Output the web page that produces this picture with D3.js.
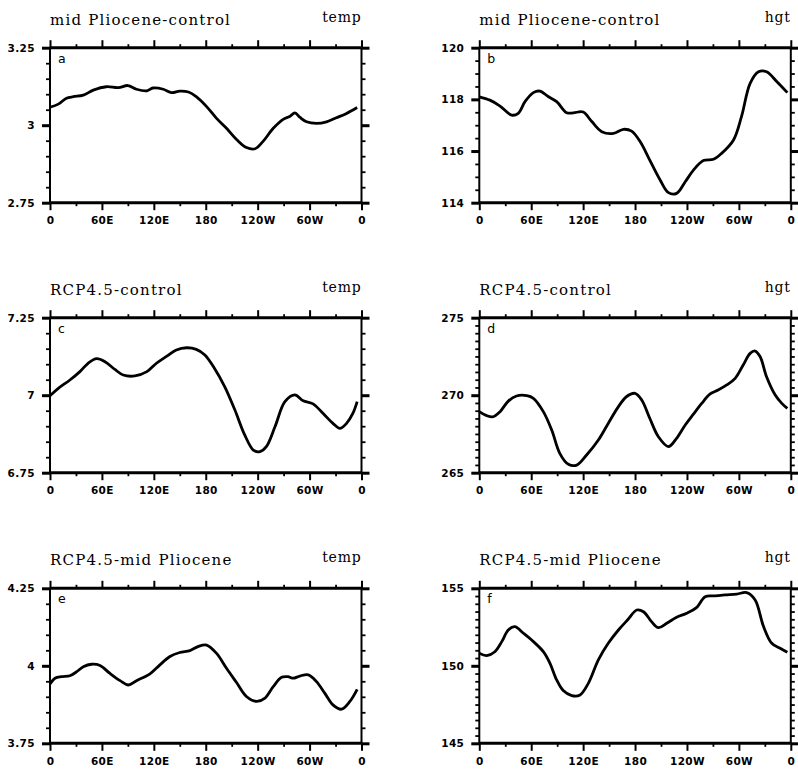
<!DOCTYPE html>
<html>
<head>
<meta charset="utf-8">
<script src="https://cdn.jsdelivr.net/npm/d3@7"></script>
<style>
  body { margin: 0; background: #fff; }
  .title { font-family: "DejaVu Serif", serif; font-size: 15px; letter-spacing: 1.2px; }
  .var { font-family: "DejaVu Serif", serif; font-size: 14px; letter-spacing: 0.8px; }
  .tick text { font-family: "DejaVu Sans", sans-serif; font-weight: bold; font-size: 10.5px; letter-spacing: 0.4px; }
  .tag { font-family: "DejaVu Sans", sans-serif; font-size: 12.5px; }
</style>
</head>
<body>
<div class="container"></div>
<script>
// longitude ticks shared by all panels
const lonTicks = [0, 60, 120, 180, 240, 300, 360];
const lonLabels = ["0", "60E", "120E", "180", "120W", "60W", "0"];

// a: mid Pliocene-control, temp
const lonA = [0, 9.6, 19, 27, 38.5, 50, 65, 79, 90, 100, 112, 119, 131, 140.5, 150, 160, 169, 181, 192.5, 204, 215.6, 227, 237, 246, 258, 269.5, 277, 283, 289, 296.5, 308, 319.6, 331, 342.7, 355];
const valA = [3.058, 3.068, 3.087, 3.092, 3.097, 3.113, 3.124, 3.121, 3.128, 3.116, 3.111, 3.120, 3.116, 3.105, 3.110, 3.107, 3.092, 3.060, 3.022, 2.990, 2.954, 2.928, 2.924, 2.947, 2.990, 3.019, 3.028, 3.040, 3.025, 3.011, 3.006, 3.011, 3.024, 3.038, 3.057];

// b: mid Pliocene-control, hgt
const lonB = [0, 12.3, 24, 37.4, 45, 52.8, 62.5, 70, 80, 89.4, 101, 108.7, 120, 130, 141.5, 155, 166.5, 176, 186, 197, 209, 218.6, 228, 238, 247.5, 259, 270.6, 280, 293.8, 303, 313, 322.7, 332, 344, 356];
const valB = [118.10, 117.97, 117.74, 117.39, 117.46, 117.91, 118.26, 118.32, 118.10, 117.91, 117.48, 117.48, 117.51, 117.14, 116.75, 116.68, 116.84, 116.77, 116.36, 115.65, 114.88, 114.39, 114.36, 114.81, 115.26, 115.63, 115.68, 115.91, 116.43, 117.33, 118.62, 119.07, 119.07, 118.68, 118.26];

// c: RCP4.5-control, temp
const lonC = [0, 9.6, 23, 34.6, 44, 54, 63.5, 75, 84.7, 98, 112, 123, 135, 146, 158, 169, 179, 190, 202, 213.7, 225, 235, 242.6, 250, 260, 271.5, 283, 292.6, 304, 315.7, 327, 335, 342.7, 350, 355];
const valC = [6.998, 7.022, 7.049, 7.076, 7.103, 7.118, 7.108, 7.083, 7.065, 7.062, 7.076, 7.103, 7.126, 7.146, 7.153, 7.148, 7.130, 7.087, 7.027, 6.952, 6.872, 6.823, 6.818, 6.834, 6.898, 6.979, 7.001, 6.982, 6.972, 6.941, 6.909, 6.893, 6.909, 6.941, 6.979];

// d: RCP4.5-control, hgt
const lonD = [0, 8.5, 16, 24, 33.5, 43, 55, 62.5, 74, 83.7, 93, 103, 112.6, 124, 137.6, 149, 160.8, 170, 180, 187.7, 197, 207, 218.6, 228, 238, 247.5, 257, 266.8, 276, 286, 295.7, 305, 313, 318.8, 324.6, 332, 342, 349.6, 356];
const valD = [268.94, 268.68, 268.61, 268.94, 269.62, 269.95, 269.97, 269.80, 268.94, 267.75, 266.25, 265.54, 265.49, 266.14, 267.11, 268.18, 269.26, 269.90, 270.12, 269.69, 268.51, 267.32, 266.68, 267.22, 268.08, 268.78, 269.47, 270.08, 270.33, 270.66, 271.09, 271.95, 272.70, 272.85, 272.48, 271.19, 270.01, 269.47, 269.15];

// e: RCP4.5-mid Pliocene, temp
const lonE = [0, 5.8, 13.5, 23, 31, 38.5, 48, 57.8, 69, 81, 90.5, 100, 115.5, 127, 138.6, 150, 161.7, 171, 181, 192.5, 204, 215.6, 227, 238.7, 248, 258, 267.6, 275, 281, 288.8, 298.5, 308, 317.7, 327, 337, 346.6, 355];
const valE = [3.941, 3.960, 3.965, 3.968, 3.981, 3.997, 4.005, 4.001, 3.976, 3.952, 3.938, 3.952, 3.974, 4.003, 4.030, 4.043, 4.049, 4.062, 4.067, 4.040, 3.992, 3.946, 3.901, 3.885, 3.895, 3.933, 3.963, 3.965, 3.960, 3.967, 3.971, 3.949, 3.911, 3.874, 3.860, 3.885, 3.924];

// f: RCP4.5-mid Pliocene, hgt
const lonF = [0, 8.5, 18, 26, 33.5, 41, 51, 62.5, 74, 81.7, 89.4, 97, 106.8, 116.4, 126, 137.6, 149, 160.8, 172, 182, 189.7, 199, 207, 216.6, 228, 239.8, 251, 261, 272.5, 284, 297.6, 309, 318.8, 328.5, 338, 347.7, 356];
const valF = [150.81, 150.66, 150.91, 151.56, 152.31, 152.53, 152.10, 151.56, 150.91, 150.16, 149.09, 148.40, 148.08, 148.12, 148.87, 150.38, 151.45, 152.31, 153.00, 153.60, 153.49, 152.85, 152.46, 152.74, 153.13, 153.39, 153.75, 154.46, 154.51, 154.57, 154.63, 154.72, 154.25, 152.53, 151.45, 151.13, 150.87];

const panels = [
  { tag: "a", title: "mid Pliocene-control", v: "temp", lon: lonA, val: valA, yDomain: [2.75, 3.25], major: 0.25, minor: 0.05, col: 0, row: 0 },
  { tag: "b", title: "mid Pliocene-control", v: "hgt", lon: lonB, val: valB, yDomain: [114, 120], major: 2, minor: 0.5, col: 1, row: 0 },
  { tag: "c", title: "RCP4.5-control", v: "temp", lon: lonC, val: valC, yDomain: [6.75, 7.25], major: 0.25, minor: 0.05, col: 0, row: 1 },
  { tag: "d", title: "RCP4.5-control", v: "hgt", lon: lonD, val: valD, yDomain: [265, 275], major: 5, minor: 0.5, col: 1, row: 1 },
  { tag: "e", title: "RCP4.5-mid Pliocene", v: "temp", lon: lonE, val: valE, yDomain: [3.75, 4.25], major: 0.25, minor: 0.05, col: 0, row: 2 },
  { tag: "f", title: "RCP4.5-mid Pliocene", v: "hgt", lon: lonF, val: valF, yDomain: [145, 155], major: 5, minor: 0.5, col: 1, row: 2 }
];

const WIDTH = 798, HEIGHT = 770;
const PW = 311.5, PH = 155;
const colX = [50, 479.3];
const rowY = [47.7, 317.7, 588.3];

const svg = d3.select(".container").append("svg")
  .attr("width", WIDTH)
  .attr("height", HEIGHT);

const steps = (lo, hi, step) => d3.range(Math.round((hi - lo) / step) + 1).map(i => +(lo + i * step).toFixed(4));

panels.forEach(p => {
  const x0 = colX[p.col], y0 = rowY[p.row];
  const g = svg.append("g").attr("transform", `translate(${x0},${y0})`);

  const x = d3.scaleLinear().domain([0, 360]).range([0, PW]);
  const y = d3.scaleLinear().domain(p.yDomain).range([PH, 0]);

  const yMajor = steps(p.yDomain[0], p.yDomain[1], p.major);
  const yMinor = steps(p.yDomain[0], p.yDomain[1], p.minor).filter(v => !yMajor.some(m => Math.abs(m - v) < 1e-6));
  const xMinor = d3.range(30, 360, 60);

  // minor ticks, all four sides, outward
  const minorAxes = [
    [d3.axisBottom(x).tickValues(xMinor).tickSize(3.5), `translate(0,${PH})`],
    [d3.axisTop(x).tickValues(xMinor).tickSize(3.5), "translate(0,0)"],
    [d3.axisLeft(y).tickValues(yMinor).tickSize(4), "translate(0,0)"],
    [d3.axisRight(y).tickValues(yMinor).tickSize(4), `translate(${PW},0)`]
  ];
  minorAxes.forEach(([ax, tr]) => {
    const a = g.append("g").attr("transform", tr).call(ax.tickFormat("").tickSizeOuter(0));
    a.select(".domain").remove();
    a.selectAll(".tick line").attr("stroke", "#000").attr("stroke-width", 1.8);
  });

  // major ticks
  const bottom = g.append("g").attr("transform", `translate(0,${PH})`)
    .call(d3.axisBottom(x).tickValues(lonTicks).tickSize(7.5).tickPadding(5).tickSizeOuter(0)
      .tickFormat((d, i) => lonLabels[i]));
  const top = g.append("g")
    .call(d3.axisTop(x).tickValues(lonTicks).tickSize(7.5).tickFormat("").tickSizeOuter(0));
  const left = g.append("g")
    .call(d3.axisLeft(y).tickValues(yMajor).tickSize(8).tickPadding(7).tickSizeOuter(0)
      .tickFormat(d => String(d)));
  const right = g.append("g").attr("transform", `translate(${PW},0)`)
    .call(d3.axisRight(y).tickValues(yMajor).tickSize(8).tickFormat("").tickSizeOuter(0));

  [bottom, top].forEach(a => {
    a.select(".domain").remove();
    a.selectAll(".tick line").attr("stroke", "#000").attr("stroke-width", 2);
  });
  [left, right].forEach(a => {
    a.select(".domain").remove();
    a.selectAll(".tick line").attr("stroke", "#000").attr("stroke-width", 3);
  });
  g.selectAll(".tick text").attr("fill", "#000");
  bottom.selectAll(".tick text").attr("dy", "0.85em");

  // frame
  g.append("line").attr("x1", 0).attr("x2", 0).attr("y1", 0).attr("y2", PH)
    .attr("stroke", "#000").attr("stroke-width", 2);
  g.append("line").attr("x1", PW).attr("x2", PW).attr("y1", 0).attr("y2", PH)
    .attr("stroke", "#000").attr("stroke-width", 2);
  g.append("line").attr("x1", 0).attr("x2", PW).attr("y1", 0).attr("y2", 0)
    .attr("stroke", "#000").attr("stroke-width", 3);
  g.append("line").attr("x1", 0).attr("x2", PW).attr("y1", PH).attr("y2", PH)
    .attr("stroke", "#000").attr("stroke-width", 3);

  // curve
  const pts = p.lon.map((l, i) => ({ lon: l, v: p.val[i] }));
  const line = d3.line()
    .x(d => x(d.lon))
    .y(d => y(d.v))
    .curve(d3.curveCatmullRom.alpha(0.5));
  g.append("path")
    .datum(pts)
    .attr("fill", "none")
    .attr("stroke", "#000")
    .attr("stroke-width", 2.8)
    .attr("stroke-linejoin", "round")
    .attr("d", line);

  // texts
  g.append("text").attr("class", "tag").attr("x", 8).attr("y", 15).text(p.tag);
  g.append("text").attr("class", "title").attr("x", 0).attr("y", -23).text(p.title);
  g.append("text").attr("class", "var").attr("x", PW).attr("y", -26)
    .attr("text-anchor", "end").text(p.v);
});
</script>
</body>
</html>
